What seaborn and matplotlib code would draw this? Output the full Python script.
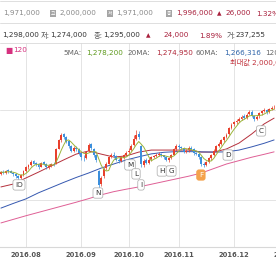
import numpy as np
import pandas as pd
import matplotlib
matplotlib.use("Agg")
import matplotlib.pyplot as plt
import seaborn as sns
from matplotlib.lines import Line2D

# ---------------- data (prices in thousand KRW) ----------------
opens = [1515, 1525, 1518, 1532, 1528, 1522, 1515, 1505, 1498, 1510,
         1530, 1545, 1555, 1572, 1565, 1560, 1548, 1568, 1562, 1545,
         1550, 1562, 1560, 1628, 1668, 1692, 1680, 1662, 1640, 1618,
         1632, 1625, 1610, 1588, 1585, 1618, 1648, 1628, 1600, 1530,
         1470, 1505, 1542, 1562, 1592, 1602, 1595, 1580, 1575, 1588,
         1600, 1612, 1622, 1645, 1672, 1695, 1640, 1555, 1578, 1565,
         1582, 1592, 1596, 1602, 1606, 1598, 1590, 1578, 1586, 1602,
         1626, 1642, 1635, 1630, 1615, 1622, 1632, 1625, 1608, 1605,
         1590, 1560, 1555, 1570, 1585, 1600, 1618, 1642, 1650, 1668,
         1682, 1692, 1722, 1738, 1748, 1752, 1762, 1775, 1766, 1782,
         1792, 1775, 1760, 1772, 1786, 1796, 1802, 1790, 1806, 1812]
closes = [1525, 1520, 1530, 1528, 1522, 1515, 1505, 1500, 1512, 1528,
          1545, 1555, 1570, 1562, 1558, 1548, 1565, 1560, 1545, 1552,
          1560, 1558, 1625, 1665, 1690, 1680, 1660, 1640, 1620, 1630,
          1625, 1610, 1590, 1585, 1615, 1645, 1630, 1600, 1580, 1465,
          1500, 1540, 1560, 1590, 1600, 1595, 1580, 1575, 1590, 1600,
          1610, 1620, 1640, 1670, 1690, 1680, 1560, 1575, 1565, 1580,
          1590, 1595, 1600, 1605, 1598, 1590, 1580, 1585, 1600, 1625,
          1640, 1635, 1630, 1615, 1620, 1630, 1625, 1610, 1605, 1590,
          1560, 1555, 1570, 1585, 1600, 1620, 1640, 1650, 1665, 1680,
          1690, 1720, 1735, 1745, 1750, 1760, 1770, 1765, 1780, 1790,
          1775, 1760, 1770, 1785, 1795, 1800, 1790, 1805, 1810, 1815]
highs = [1530, 1532, 1535, 1538, 1533, 1526, 1518, 1510, 1516, 1532,
         1550, 1562, 1578, 1580, 1570, 1563, 1570, 1575, 1565, 1558,
         1565, 1568, 1630, 1672, 1698, 1700, 1685, 1668, 1645, 1638,
         1640, 1630, 1615, 1598, 1620, 1652, 1655, 1632, 1605, 1535,
         1508, 1545, 1568, 1595, 1610, 1612, 1600, 1588, 1595, 1606,
         1618, 1630, 1648, 1690, 1712, 1705, 1645, 1582, 1585, 1588,
         1596, 1602, 1608, 1612, 1610, 1602, 1595, 1592, 1606, 1630,
         1648, 1650, 1642, 1635, 1628, 1638, 1640, 1630, 1615, 1610,
         1595, 1568, 1575, 1590, 1605, 1625, 1645, 1658, 1672, 1686,
         1698, 1726, 1742, 1752, 1758, 1768, 1778, 1782, 1786, 1800,
         1798, 1780, 1776, 1790, 1802, 1808, 1806, 1810, 1818, 1822]
lows = [1510, 1514, 1515, 1522, 1518, 1508, 1498, 1490, 1495, 1506,
        1525, 1540, 1550, 1558, 1552, 1540, 1545, 1555, 1538, 1540,
        1546, 1552, 1558, 1625, 1660, 1672, 1652, 1632, 1612, 1612,
        1618, 1602, 1580, 1575, 1582, 1612, 1622, 1592, 1570, 1455,
        1462, 1500, 1535, 1558, 1585, 1588, 1572, 1565, 1570, 1582,
        1595, 1605, 1618, 1640, 1665, 1670, 1545, 1548, 1558, 1560,
        1575, 1585, 1590, 1595, 1592, 1582, 1572, 1570, 1582, 1598,
        1620, 1628, 1622, 1608, 1610, 1615, 1618, 1602, 1598, 1582,
        1550, 1545, 1550, 1565, 1580, 1596, 1615, 1636, 1645, 1660,
        1676, 1688, 1715, 1730, 1740, 1746, 1756, 1760, 1760, 1776,
        1770, 1752, 1755, 1766, 1780, 1790, 1784, 1786, 1800, 1805]

ma_idx = [0, 5, 10, 15, 20, 25, 30, 35, 40, 45, 50, 55, 60, 65, 70, 75,
          80, 85, 90, 95, 100, 105, 109]
ma20 = [1458, 1471, 1498, 1524, 1551, 1578, 1604, 1618, 1604, 1591, 1596, 1613,
        1622, 1622, 1622, 1622, 1613, 1613, 1627, 1653, 1693, 1738, 1764]
ma60 = [1364, 1385, 1405, 1432, 1455, 1478, 1500, 1520, 1542, 1560, 1578, 1592,
        1605, 1612, 1615, 1615, 1614, 1613, 1614, 1622, 1636, 1652, 1667]
ma120 = [1298, 1314, 1330, 1345, 1360, 1375, 1390, 1406, 1423, 1437, 1448, 1458,
         1470, 1482, 1494, 1506, 1520, 1540, 1560, 1575, 1590, 1603, 1614]

month_ticks = [10, 32, 51, 71, 93, 115]
month_labels = ["2016.08", "2016.09", "2016.10", "2016.11", "2016.12", "2017.01"]
grid_prices = [1400, 1800]

mark_labels = ["IO", "N", "M", "L", "I", "H", "G", "F", "D", "C"]
mark_idx = [7.2, 38.7, 51.5, 53.9, 55.9, 64.3, 67.9, 79.8, 90.6, 103.8]
mark_price = [1467, 1431, 1556, 1516, 1467, 1529, 1529, 1511, 1600, 1707]

# ---------------- style ----------------
sns.set_theme(style="white")
plt.rcParams["font.family"] = ["DejaVu Sans", "Noto Sans CJK KR"]

W, H = 276.0, 260.0
fig = plt.figure(figsize=(W / 100, H / 100), dpi=100)
fig.patch.set_facecolor("white")
ax = fig.add_axes([0, (H - 247) / H, 1, (247 - 43) / H])
ax.set_facecolor("white")

idx = np.arange(len(closes))
o = np.array(opens, float)
c = np.array(closes, float)
hi = np.array(highs, float)
lo = np.array(lows, float)
up = c >= o
col_up, col_dn = "#e8402c", "#3c8fdc"
colors = np.where(up, col_up, col_dn)

# wicks and bodies
ax.vlines(idx, lo, hi, colors=colors, lw=0.5, zorder=3)
body_b = np.minimum(o, c)
body_h = np.maximum(np.abs(c - o), 2.5)
ax.bar(idx, body_h, bottom=body_b, width=0.78, color=colors, lw=0, zorder=4)

# moving averages
ma5 = pd.Series(c).rolling(5, min_periods=1).mean()
sns.lineplot(x=idx, y=ma5.values, color="#9bb53a", lw=0.7, ax=ax, zorder=5)
sns.lineplot(x=ma_idx, y=ma20, color="#b5303c", lw=0.7, ax=ax, zorder=2)
sns.lineplot(x=ma_idx, y=ma60, color="#3558b0", lw=0.7, ax=ax, zorder=2)
sns.lineplot(x=ma_idx, y=ma120, color="#df5f95", lw=0.7, ax=ax, zorder=2)

# marks
for lab, xi, yp in zip(mark_labels, mark_idx, mark_price):
    if lab == "F":
        ax.text(xi, yp, lab, fontsize=5.2, color="white", ha="center", va="center",
                zorder=8, bbox=dict(boxstyle="round,pad=0.3", fc="#f4a24c", ec="#f4a24c", lw=0.5))
    else:
        ax.text(xi, yp, lab, fontsize=5.2, color="#333333", ha="center", va="center",
                zorder=8, bbox=dict(boxstyle="round,pad=0.3", fc="white", ec="#a8a8a8", lw=0.5))

ax.set_xlim(-0.37, 109.76)
ax.set_ylim(1191, 2098)
ax.set_yticks(grid_prices)
ax.set_yticklabels([])
ax.set_xticks(month_ticks[:5])
ax.set_xticklabels(month_labels[:5], fontsize=4.9, color="#555555", fontweight="bold")
ax.tick_params(axis="both", length=0)
ax.tick_params(axis="x", pad=3.5)
ax.grid(True, color="#e4e4e4", lw=0.7)
for s in ["top", "left", "right"]:
    ax.spines[s].set_visible(False)
ax.spines["bottom"].set_color("#d8d8d8")
ax.spines["bottom"].set_linewidth(0.8)
ax.text(month_ticks[5], -8 / 204, month_labels[5], transform=ax.get_xaxis_transform(),
        fontsize=4.9, color="#555555", fontweight="bold", ha="center", va="center",
        clip_on=False)

# ---------------- header ----------------
def T(x, y, s, color="#333333", size=5.2, **kw):
    fig.text(x / W, 1 - y / H, s, color=color, fontsize=size, ha="left", va="center", **kw)

def icon(x, y, s):
    T(x, y, s, color="white", size=3.4,
      bbox=dict(boxstyle="square,pad=0.18", fc="#a5a5a5", ec="none"))

for yy in [1, 23, 43]:
    fig.add_artist(Line2D([0, 1], [1 - yy / H] * 2, color="#d9d9d9", lw=0.6,
                          transform=fig.transFigure))

red = "#a8203c"
gray = "#8a8a8a"
T(3, 13.5, "1,971,000", gray)
icon(50.5, 13.5, "고")
T(59, 13.5, "2,000,000", gray)
icon(108, 13.5, "저")
T(116, 13.5, "1,971,000", gray)
icon(167, 13.5, "종")
T(176, 13.5, "1,996,000", red)
T(217, 13.5, "▲", red, size=4.2)
T(225, 13.5, "26,000", red)
T(256, 13.5, "1.32%", red)

T(2, 35.5, "1,298,000")
T(41, 35.5, "저:", "#555555")
T(50, 35.5, "1,274,000")
T(94, 35.5, "종:", "#555555")
T(103, 35.5, "1,295,000")
T(146, 35.5, "▲", red, size=4.2)
T(163, 35.5, "24,000", red)
T(199, 35.5, "1.89%", red)
T(227, 35.5, "거:", "#555555")
T(235, 35.5, "237,255")

T(5, 50, "■", "#d6317f", size=5.5)
T(13, 50, "120", "#d6317f")
T(63, 53, "5MA:", "#666666")
T(86, 53, "1,278,200", "#5f9a1e")
T(127, 53, "20MA:", "#666666")
T(156, 53, "1,274,950", "#b0283a")
T(196, 53, "60MA:", "#666666")
T(224, 53, "1,266,316", "#2b62a8")
T(265, 53, "120MA:", "#666666")
T(230, 62, "최대값 2,000,000", "#c0303a")

fig.savefig("out.png", dpi=100, facecolor="white")
